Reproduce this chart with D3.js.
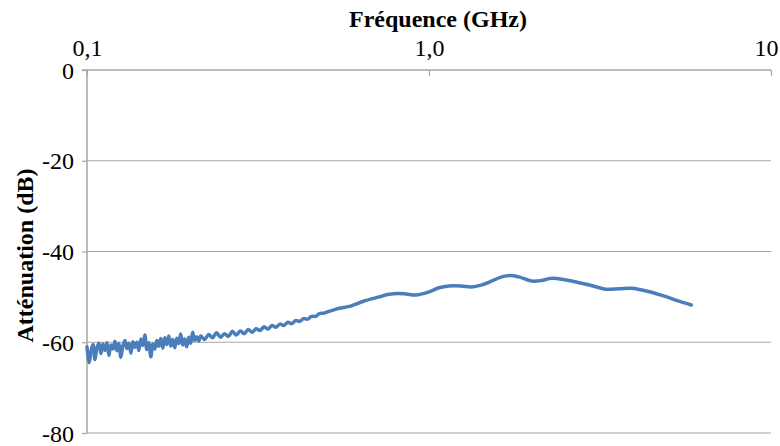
<!DOCTYPE html>
<html><head><meta charset="utf-8">
<script src="https://cdn.jsdelivr.net/npm/d3@7"></script>
<style>
html,body{margin:0;padding:0;background:#fff;}
svg{display:block;}
</style></head>
<body>
<svg id="chart" width="780" height="446"></svg>
<script>
const xTickValues = [0.1, 1, 10];
const xTickLabels = ["0,1", "1,0", "10"];
const yTickValues = [0, -20, -40, -60, -80];
const yTickLabels = ["0", "-20", "-40", "-60", "-80"];
const xTitle = "Fréquence (GHz)";
const yTitle = "Atténuation (dB)";

const freqGHz = [
 0.1000,0.1014,0.1027,0.1041,0.1055,0.1069,0.1084,0.1098,0.1113,0.1128,
 0.1144,0.1159,0.1175,0.1191,0.1207,0.1223,0.1240,0.1256,0.1273,0.1291,
 0.1308,0.1326,0.1344,0.1362,0.1380,0.1399,0.1418,0.1437,0.1456,0.1476,
 0.1496,0.1516,0.1537,0.1557,0.1578,0.1600,0.1621,0.1643,0.1666,0.1688,
 0.1711,0.1734,0.1757,0.1781,0.1805,0.1829,0.1854,0.1879,0.1905,0.1930,
 0.1956,0.1983,0.2010,0.2037,0.2064,0.2092,0.2121,
 0.2150,0.2208,0.2268,0.2329,0.2392,0.2457,0.2523,0.2591,0.2661,0.2733,
 0.2807,0.2883,0.2961,0.3041,0.3123,0.3207,0.3294,0.3383,0.3474,0.3568,
 0.3664,0.3763,0.3865,0.3969,0.4076,0.4186,0.4300,0.4416,0.4535,0.4657,
 0.4783,0.4912,0.5100,
 0.5466,0.5845,0.6465,0.7151,0.7647,0.8456,0.9165,1.0000,1.0700,1.1436,
 1.2400,1.3350,1.4200,1.4960,1.6330,1.7340,1.8300,1.9970,2.1300,2.2840,
 2.5200,2.7930,3.0200,3.2810,3.6000,3.9070,4.3800,4.9090,5.3500,5.8460
];
const attenDb = [
 -61.0,-64.5,-62.0,-60.5,-63.8,-61.2,-60.2,-62.5,-60.4,-61.8,
 -60.1,-62.9,-60.6,-61.5,-59.8,-61.9,-60.3,-63.3,-60.8,-59.6,
 -61.4,-60.2,-62.4,-59.9,-61.1,-60.0,-61.8,-59.3,-60.7,-58.4,
 -61.6,-60.1,-63.2,-60.4,-61.5,-59.6,-60.9,-59.2,-61.3,-59.0,
 -60.5,-58.6,-60.8,-59.4,-61.2,-59.1,-60.3,-58.2,-60.6,-59.3,
 -61.0,-58.9,-60.2,-57.8,-59.6,-58.8,-59.7,
 -58.6,-59.4,-58.3,-59.0,-57.9,-58.9,-58.1,-58.7,-57.6,-58.4,
 -57.5,-58.1,-57.2,-57.8,-57.0,-57.4,-56.6,-57.1,-56.3,-56.7,
 -56.0,-56.3,-55.6,-55.9,-55.2,-55.4,-54.8,-54.9,-54.3,-54.3,
 -53.7,-53.6,-53.2,
 -52.5,-52.1,-50.9,-50.0,-49.4,-49.3,-49.6,-48.9,-48.0,-47.6,
 -47.6,-47.8,-47.4,-46.8,-45.6,-45.3,-45.6,-46.5,-46.4,-45.9,
 -46.3,-47.0,-47.6,-48.3,-48.2,-48.1,-48.8,-49.9,-50.9,-51.8
];

(function () {
const FONT = "'Liberation Serif', Tinos, 'Times New Roman', Times, 'DejaVu Serif', 'Noto Serif', serif";
const svg = d3.select("#chart");
const mLeft = 87, mRight = 771, mTop = 70, mBottom = 433;

const x = d3.scaleLog().domain([0.1, 10]).range([mLeft, mRight]);
const y = d3.scaleLinear().domain([-80, 0]).range([mBottom, mTop]);

const gridColor = "#a6a6a6";

svg.append("g").selectAll("line")
  .data(yTickValues.filter(v => v !== 0))
  .join("line")
  .attr("x1", mLeft).attr("x2", mRight)
  .attr("y1", d => y(d)).attr("y2", d => y(d))
  .attr("stroke", gridColor).attr("stroke-width", 1.2);

// top x axis
const xAxis = d3.axisTop(x).tickValues(xTickValues)
  .tickFormat((d, i) => xTickLabels[i]).tickSize(-6).tickPadding(14);
const gx = svg.append("g").attr("transform", `translate(0,${mTop})`).call(xAxis)
  .attr("font-family", null).attr("font-size", null);
gx.select(".domain").remove();
gx.append("line").attr("x1", mLeft - 5).attr("x2", mRight).attr("y1", 0).attr("y2", 0)
  .attr("stroke", gridColor).attr("stroke-width", 1.5);
gx.selectAll(".tick line").attr("stroke", gridColor).attr("stroke-width", 1.2);
gx.selectAll(".tick text")
  .style("font-family", FONT).style("font-size", "24px").attr("fill", "#000")
  .attr("dx", (d, i) => i === xTickValues.length - 1 ? -5 : 0);

// left y axis
const yAxis = d3.axisLeft(y).tickValues(yTickValues)
  .tickFormat((d, i) => yTickLabels[i]).tickSize(5).tickPadding(8);
const gy = svg.append("g").attr("transform", `translate(${mLeft},0)`).call(yAxis)
  .attr("font-family", null).attr("font-size", null);
gy.select(".domain").attr("stroke", gridColor).attr("stroke-width", 1.5)
  .attr("d", `M0,${mTop}V${mBottom}`);
gy.selectAll(".tick line").attr("stroke", gridColor).attr("stroke-width", 1.2);
gy.selectAll(".tick text")
  .style("font-family", FONT).style("font-size", "24px").attr("fill", "#000")
  .attr("dy", "0.34em");

// data line
const pts = freqGHz.map((f, i) => [f, attenDb[i]]);
const line = d3.line().x(d => x(d[0])).y(d => y(d[1])).curve(d3.curveCatmullRom.alpha(0.5));
svg.append("path").datum(pts)
  .attr("d", line)
  .attr("fill", "none")
  .attr("stroke", "#4a7ebb")
  .attr("stroke-width", 3.5)
  .attr("stroke-linejoin", "round")
  .attr("stroke-linecap", "round");

// titles
svg.append("text").attr("x", 438).attr("y", 27)
  .attr("text-anchor", "middle")
  .style("font-family", FONT).style("font-size", "24px").style("font-weight", "bold")
  .text(xTitle);

svg.append("text")
  .attr("transform", `translate(33,${(mTop + mBottom) / 2 + 4}) rotate(-90)`)
  .attr("text-anchor", "middle")
  .style("font-family", FONT).style("font-size", "24px").style("font-weight", "bold")
  .text(yTitle);
})();
</script>
</body></html>
